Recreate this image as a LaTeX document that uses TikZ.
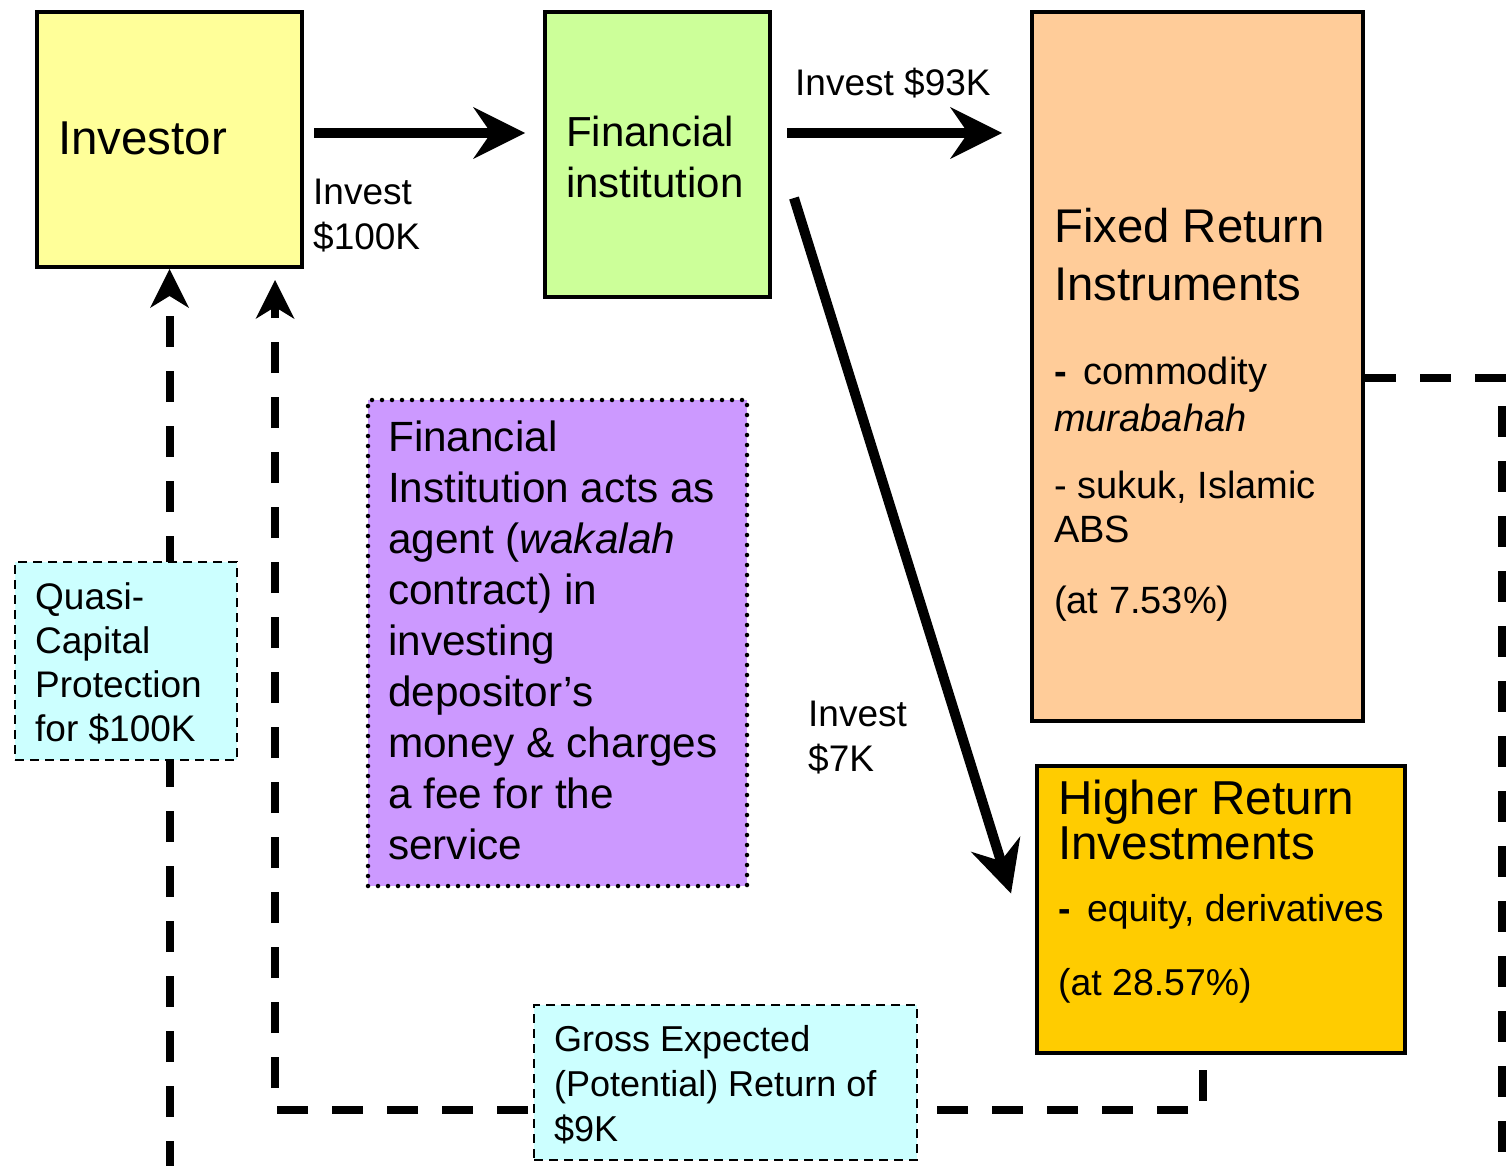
\documentclass[tikz,border=0pt]{standalone}
\usepackage{fontspec}
\setmainfont{Liberation Sans}
\usetikzlibrary{arrows.meta}

\definecolor{invyellow}{HTML}{FFFF99}
\definecolor{figreen}{HTML}{CCFF99}
\definecolor{fixorange}{HTML}{FFCC99}
\definecolor{highgold}{HTML}{FFCC00}
\definecolor{agentpurple}{HTML}{CC99FF}
\definecolor{notecyan}{HTML}{CCFFFF}

\tikzset{
  box/.style={draw, line width=4pt, inner sep=0pt},
  note/.style={draw, line width=2.5pt, dash pattern=on 9pt off 6pt, fill=notecyan, inner sep=0pt},
  txt/.style={inner sep=0pt, align=left, anchor=north west},
  flow/.style={line width=10pt, -{Stealth[length=52pt, width=52pt, inset=18pt, line width=0pt]}},
  ret/.style={line width=8pt, dash pattern=on 31pt off 24pt},
  rettip/.style={ret, -{Stealth[length=39pt, width=39pt, inset=12pt, line width=0pt]}}
}

\begin{document}
\begin{tikzpicture}[x=1pt, y=-1pt]
    \useasboundingbox (0,0) rectangle (1511,1166);
    % Boxes
    \node[box, fill=invyellow, minimum width=265pt, minimum height=255pt] (inv) at (169.5,139.5) {};
    \node[box, fill=figreen, minimum width=225pt, minimum height=285pt] (fi) at (657.5,154.5) {};
    \node[box, fill=fixorange, minimum width=331pt, minimum height=709pt] (fri) at (1197.5,366.5) {};
    \node[box, fill=highgold, minimum width=368pt, minimum height=287pt] (hri) at (1221,909.5) {};
    \node[draw, line width=4.5pt, line cap=round, dash pattern=on 0pt off 10pt, fill=agentpurple, inner sep=0pt,
          minimum width=379pt, minimum height=486pt] (agent) at (557.5,643) {};
    % Outside ends of the return lines
    \coordinate (lb) at (170,1172);
    \coordinate (rb) at (1502,1172);
    % Money flows
    \draw[flow] ([shift={(10,-6.5)}]inv.east) -- ([shift={(-18,-21.5)}]fi.west);
    \draw[flow] ([shift={(15,-21.5)}]fi.east) -- ([shift={(230,-21.5)}]fi.east);
    \draw[flow] ([shift={(22,43.5)}]fi.east) -- ([shift={(-24,-16)}]hri.west);
    % Returns back to the investor
    \draw[rettip] (inv.south |- lb) -- (inv.south);
    \draw[rettip] ([shift={(-18,15)}]hri.south) |- ([shift={(105.5,841)}]inv.south) -- ([shift={(105.5,11)}]inv.south);
    \draw[ret] ([yshift=-11.5pt]fri.east) -| (rb);
    % Notes on top of the lines
    \node[note, minimum width=222pt, minimum height=198pt] (quasi) at (126,661) {};
    \node[note, minimum width=383pt, minimum height=155pt] (gross) at (725.5,1082.5) {};
    % Texts
    \node[txt, font=\fontsize{47.5}{57}\selectfont] (inv-t) at (58,122) {Investor};
    \node[txt, font=\fontsize{42}{51}\selectfont] (fi-t) at (566,116) {Financial\\institution};
    \node[anchor=base west, inner sep=0pt, font=\fontsize{37}{45}\selectfont] (l93) at (795,96) {Invest \$93K};
    \node[txt, font=\fontsize{37}{45}\selectfont] (l100) at (313,179) {Invest\\\$100K};
    \node[txt, font=\fontsize{37}{45}\selectfont] (l7) at (808,701) {Invest\\\$7K};
    \node[txt, font=\fontsize{47.3}{58}\selectfont] (fri-t) at (1054,208) {Fixed Return\\Instruments};
    \node[txt, font=\fontsize{38}{47}\selectfont] (fri-a) at (1054,357) {\textbf{-}\hspace{6pt} commodity\\\textit{murabahah}};
    \node[txt, font=\fontsize{38}{44}\selectfont] (fri-b) at (1054,471) {- sukuk, Islamic\\ABS};
    \node[anchor=base west, inner sep=0pt, font=\fontsize{38}{44}\selectfont] (fri-c) at (1054,613) {(at 7.53\%)};
    \node[txt, font=\fontsize{47.6}{45}\selectfont] (hri-t) at (1058,780) {Higher Return\\Investments};
    \node[anchor=base west, inner sep=0pt, font=\fontsize{37.4}{45}\selectfont] (hri-a) at (1058,921) {\textbf{-}\hspace{6pt} equity, derivatives};
    \node[anchor=base west, inner sep=0pt, font=\fontsize{37.4}{45}\selectfont] (hri-b) at (1058,995) {(at 28.57\%)};
    \node[txt, font=\fontsize{42.3}{51}\selectfont] (agent-t) at (388,421)
        {Financial\\Institution acts as\\agent (\textit{wakalah}\\contract) in\\investing\\depositor’s\\money \& charges\\a fee for the\\service};
    \node[txt, font=\fontsize{37}{44}\selectfont] (quasi-t) at (35,582) {Quasi-\\Capital\\Protection\\for \$100K};
    \node[txt, font=\fontsize{36}{45}\selectfont] (gross-t) at (554,1025) {Gross Expected\\(Potential) Return of\\\$9K};
\end{tikzpicture}
\end{document}
